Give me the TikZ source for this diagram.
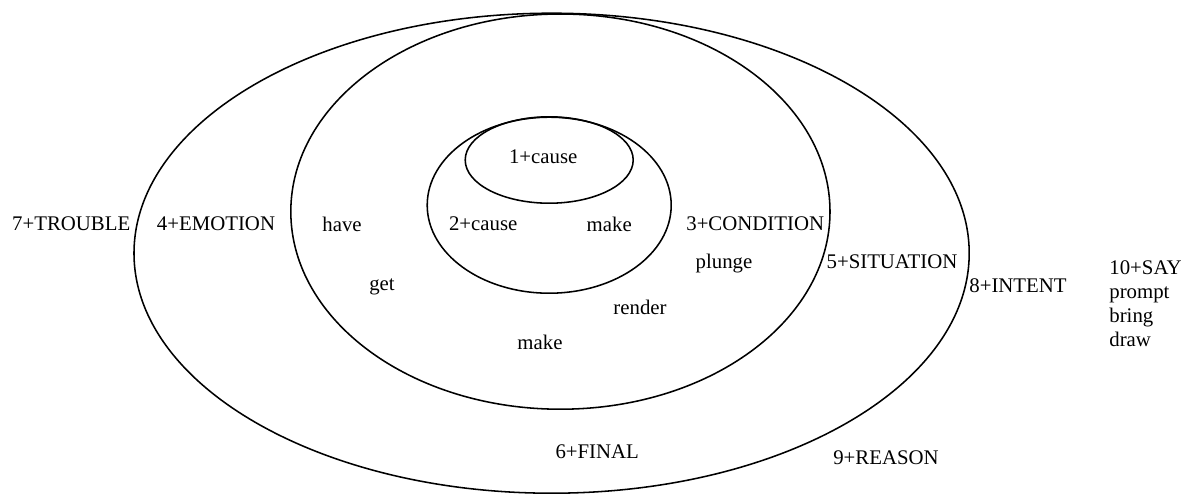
\documentclass[tikz,border=0pt]{standalone}
\usepackage{fontspec}
\setmainfont{Liberation Serif}
\usepackage{tikz}

\begin{document}
\begin{tikzpicture}[line width=1.1pt]
  \tikzstyle{word}=[inner sep=1pt,font=\fontsize{14.8}{17}\selectfont]
  \useasboundingbox (0,0) rectangle (29.6,-12.375);
  \draw (13.79,-6.33) ellipse (10.44 and 6.0);
  \draw (14.01,-5.29) ellipse (6.74 and 4.94);
  \draw (13.73,-5.13) ellipse (3.05 and 2.2);
  \draw (13.73,-4.0)  ellipse (2.1 and 1.08);
  \node[word] (T_1) at (13.58,-3.93) {1+cause};
  \node[word] (T_2) at (12.08,-5.6)  {2+cause};
  \node[word] (T_3) at (18.88,-5.6)  {3+CONDITION};
  \node[word] (T_4) at (5.4,-5.6)    {4+EMOTION};
  \node[word] (T_5) at (22.3,-6.55)  {5+SITUATION};
  \node[word] (T_6) at (14.93,-11.3) {6+FINAL};
  \node[word] (T_7) at (1.78,-5.6)   {7+TROUBLE};
  \node[word] (T_8) at (25.45,-7.13) {8+INTENT};
  \node[word] (T_9) at (22.15,-11.45) {9+REASON};
  \node[word,align=left,anchor=west] (T_10) at (27.68,-7.59) {10+SAY\\prompt\\bring\\draw};
  \node[word] (V_have)   at (8.55,-5.6)  {have};
  \node[word] (V_make)   at (15.23,-5.6) {make};
  \node[word] (V_get)    at (9.55,-7.18) {get};
  \node[word] (V_plunge) at (18.1,-6.58) {plunge};
  \node[word] (V_render) at (16.0,-7.68) {render};
  \node[word] (V_makes)  at (13.5,-8.55) {make};
\end{tikzpicture}
\end{document}
